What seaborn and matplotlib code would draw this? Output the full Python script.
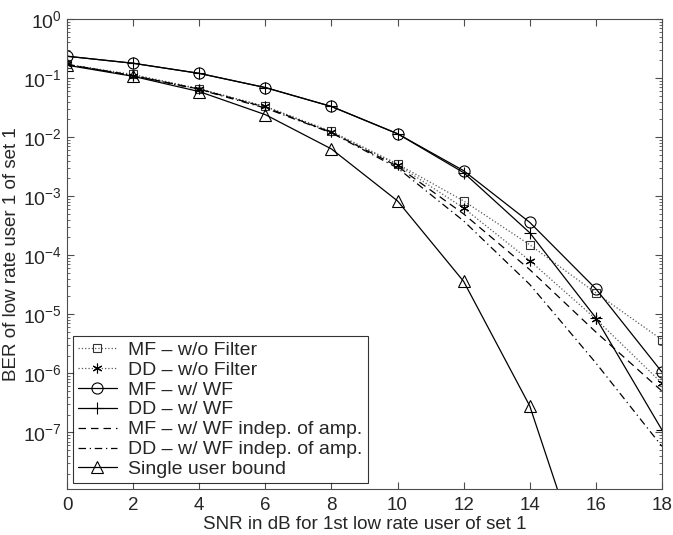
import numpy as np
import pandas as pd
import matplotlib
matplotlib.use("Agg")
import matplotlib.pyplot as plt
import seaborn as sns
from matplotlib.ticker import LogLocator, FixedLocator

# Data
snr = [0, 2, 4, 6, 8, 10, 12, 14, 16, 18]

mf_wo_filter = [0.17, 0.115, 0.066, 0.033, 0.0125, 0.0035, 8.3e-4, 1.5e-4, 2.3e-5, 3.7e-6]
dd_wo_filter = [0.17, 0.11, 0.065, 0.033, 0.012, 0.0034, 6.3e-4, 8.1e-5, 8.3e-6, 6.8e-7]
mf_wf = [0.234, 0.178, 0.12, 0.069, 0.033, 0.0114, 0.0027, 3.6e-4, 2.7e-5, 1.05e-6]
dd_wf = [0.234, 0.178, 0.12, 0.069, 0.033, 0.0114, 0.0025, 2.4e-4, 8.7e-6, 1.1e-7]
mf_wf_indep = [0.17, 0.11, 0.065, 0.032, 0.012, 0.0032, 5.0e-4, 5.7e-5, 5.0e-6, 5.0e-7]
dd_wf_indep = [0.17, 0.11, 0.064, 0.031, 0.0118, 0.0030, 3.8e-4, 3.2e-5, 1.5e-6, 5.8e-8]
single_user = [0.165, 0.107, 0.059, 0.024, 0.0063, 8.3e-4, 3.6e-5, 2.8e-7, 1.2e-10, 1e-13]

labels = ["MF \u2013 w/o Filter", "DD \u2013 w/o Filter", "MF \u2013 w/ WF",
          "DD \u2013 w/ WF", "MF \u2013 w/ WF indep. of amp.",
          "DD \u2013 w/ WF indep. of amp.", "Single user bound"]
series = [mf_wo_filter, dd_wo_filter, mf_wf, dd_wf, mf_wf_indep, dd_wf_indep, single_user]

styles = [
    dict(ls=":", marker="s", color="0.35", mec="0.2", ms=6),
    dict(ls=":", marker=(6, 2, 0), color="0.35", mec="black", ms=7),
    dict(ls="-", marker="o", color="black", mec="black", ms=8),
    dict(ls="-", marker="+", color="black", mec="black", ms=9),
    dict(ls=(0, (6, 4)), marker=None, color="black", mec="black", ms=0),
    dict(ls=(0, (6, 3, 1, 3)), marker=None, color="black", mec="black", ms=0),
    dict(ls="-", marker="^", color="black", mec="black", ms=8),
]

sns.set_style("ticks")
plt.rcParams['font.family'] = ['Liberation Sans', 'DejaVu Sans']
plt.rcParams['mathtext.fontset'] = 'custom'
plt.rcParams['mathtext.rm'] = 'Liberation Sans'
plt.rcParams['mathtext.it'] = 'Liberation Sans'

fig = plt.figure(figsize=(6.73, 5.35), dpi=100)
ax = fig.add_axes([0.0996, 0.086, 0.884, 0.8785])

for vals, lab, st in zip(series, labels, styles):
    df = pd.DataFrame({"snr": snr, "ber": vals})
    sns.lineplot(data=df, x="snr", y="ber", ax=ax, label=lab,
                 color=st["color"], linestyle=st["ls"], linewidth=0.9,
                 marker=st["marker"], markersize=st["ms"],
                 markerfacecolor="none", markeredgecolor=st["mec"],
                 markeredgewidth=0.8)

ax.set_yscale("log")
ax.set_xlim(0, 18)
ax.set_ylim(1.1e-8, 1)
ax.set_xticks(range(0, 19, 2))
ax.yaxis.set_major_locator(FixedLocator([10.0 ** k for k in range(-7, 1)]))
ax.yaxis.set_minor_locator(LogLocator(base=10, subs=np.arange(2, 10), numticks=20))
ax.tick_params(which="both", direction="in", top=True, right=True,
               labelsize=14, color="0.3")
ax.tick_params(axis="x", pad=6, labelsize=13.5)
ax.tick_params(axis="y", pad=4)
ax.tick_params(which="major", length=5)
ax.tick_params(which="minor", length=2.5)
for sp in ax.spines.values():
    sp.set_color("0.3")
    sp.set_linewidth(0.8)

ax.set_xlabel("SNR in dB for 1st low rate user of set 1", fontsize=13.5, labelpad=1)
ax.set_ylabel("BER of low rate user 1 of set 1", fontsize=13.5, labelpad=2)

leg = ax.legend(loc="lower left", fontsize=14, handlelength=2.0, handletextpad=0.6,
                borderpad=0.25, labelspacing=0.12, borderaxespad=0.3,
                frameon=True, fancybox=False, edgecolor="black")
leg.get_frame().set_linewidth(0.8)

fig.savefig("out.png", dpi=100)
